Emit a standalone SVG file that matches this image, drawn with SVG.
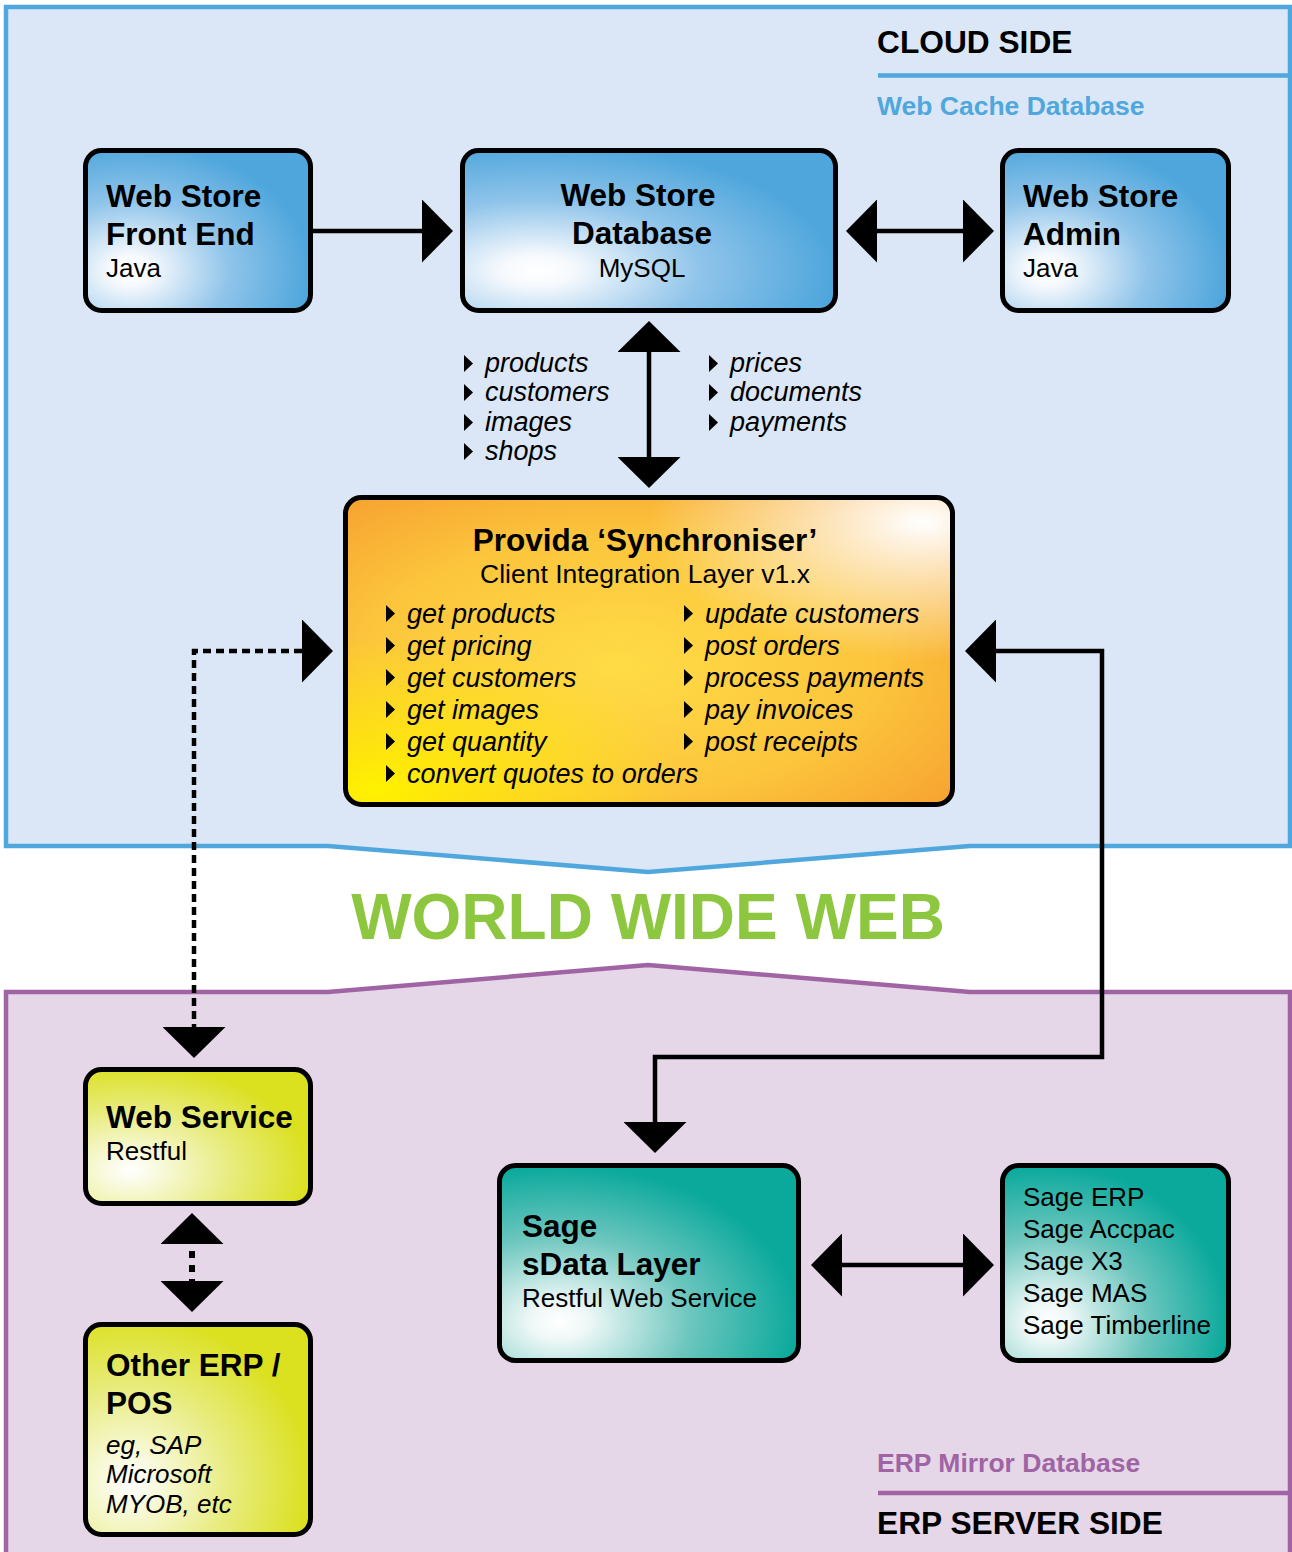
<svg xmlns="http://www.w3.org/2000/svg" xmlns:xlink="http://www.w3.org/1999/xlink" width="1292" height="1552" viewBox="0 0 1292 1552">
<style>
  text { font-family: "Liberation Sans", Arial, Helvetica, sans-serif; fill: #000; }
  .h { font-weight: bold; font-size: 31.5px; }
  .s { font-size: 26px; }
  .i { font-size: 27px; font-style: italic; }
  .ii { font-size: 26px; font-style: italic; }
  .box { stroke: #000; stroke-width: 5; }
  .conn { fill: none; stroke: #000; stroke-width: 4.5; }
  .dot { stroke-dasharray: 8 5; }
  .side { font-weight: bold; font-size: 31.7px; }
  .sub { font-weight: bold; font-size: 26.5px; }
</style>
<defs>
  <radialGradient id="gBlue" cx="0.2" cy="0.75" r="0.8">
    <stop offset="0" stop-color="#ffffff"/>
    <stop offset="0.12" stop-color="#f6f9fd"/>
    <stop offset="0.55" stop-color="#8fc4ea"/>
    <stop offset="1" stop-color="#4ea6dc"/>
  </radialGradient>
  <radialGradient id="gYel" cx="0.2" cy="0.75" r="0.8">
    <stop offset="0" stop-color="#ffffff"/>
    <stop offset="0.12" stop-color="#fafbe6"/>
    <stop offset="0.55" stop-color="#e8ec80"/>
    <stop offset="1" stop-color="#dbe01f"/>
  </radialGradient>
  <radialGradient id="gTeal" cx="0.2" cy="0.8" r="0.8">
    <stop offset="0" stop-color="#ffffff"/>
    <stop offset="0.12" stop-color="#eef8f7"/>
    <stop offset="0.55" stop-color="#6cc6be"/>
    <stop offset="1" stop-color="#0aa99c"/>
  </radialGradient>
  <radialGradient id="gOrBase" cx="0.45" cy="0.55" r="0.7">
    <stop offset="0" stop-color="#ffdc46"/>
    <stop offset="0.6" stop-color="#fcc53c"/>
    <stop offset="1" stop-color="#f7a331"/>
  </radialGradient>
  <radialGradient id="gOrYel" cx="0.05" cy="0.95" r="0.5">
    <stop offset="0" stop-color="#fff200" stop-opacity="1"/>
    <stop offset="1" stop-color="#fff200" stop-opacity="0"/>
  </radialGradient>
  <radialGradient id="gOrWht" cx="0.95" cy="0.08" r="0.45">
    <stop offset="0" stop-color="#ffffff" stop-opacity="1"/>
    <stop offset="1" stop-color="#ffffff" stop-opacity="0"/>
  </radialGradient>
  <marker id="ah" viewBox="0 0 31 63" refX="0" refY="31.5" markerWidth="31" markerHeight="63" markerUnits="userSpaceOnUse" orient="auto-start-reverse">
    <path d="M0,0 L31,31.5 L0,63 Z" fill="#000"/>
  </marker>
  <path id="tri" d="M0,-17 L9,-8.5 L0,0 Z" fill="#000"/>
</defs>

<!-- Panels -->
<path d="M6,7 H1290 V846 H970 L648,872 L328,846 H6 Z" fill="#dbe7f6" stroke="#4fa7dd" stroke-width="4.5"/>
<path d="M6,1560 V992 H328 L648,965 L970,992 H1290 V1560" fill="#e5d7e8" stroke="#a064a4" stroke-width="4.5"/>
<text class="side" x="877" y="53">CLOUD SIDE</text>
<line x1="878" y1="75.5" x2="1290" y2="75.5" stroke="#4fa7dd" stroke-width="4.5"/>
<text class="sub" x="877" y="115" style="fill:#4fa7dd">Web Cache Database</text>
<text x="648" y="939" text-anchor="middle" style="font-weight:bold;font-size:64px;fill:#8dc63f">WORLD WIDE WEB</text>
<text class="sub" x="877" y="1472" style="fill:#a064a4">ERP Mirror Database</text>
<line x1="878" y1="1493" x2="1290" y2="1493" stroke="#a064a4" stroke-width="4.5"/>
<text class="side" x="877" y="1534">ERP SERVER SIDE</text>

<!-- Connectors -->
<g id="connectors">
  <path class="conn" d="M313,231 H422" marker-end="url(#ah)"/>
  <path class="conn" d="M877,231 H963" marker-start="url(#ah)" marker-end="url(#ah)"/>
  <path class="conn" d="M649,352 V457" marker-start="url(#ah)" marker-end="url(#ah)"/>
  <path class="conn dot" d="M302,651 H194 V1027" marker-start="url(#ah)" marker-end="url(#ah)"/>
  <path class="conn" d="M996,651 H1102 V1057 H655 V1122" marker-start="url(#ah)" marker-end="url(#ah)"/>
  <path class="conn" d="M192,1244 V1281" style="stroke-width:6;stroke-dasharray:7 7;stroke-dashoffset:7" marker-start="url(#ah)" marker-end="url(#ah)"/>
  <path class="conn" d="M842,1265 H963" marker-start="url(#ah)" marker-end="url(#ah)"/>
</g>

<!-- Data flow lists -->
<g id="flow-labels">
  <use href="#tri" x="464" y="372"/><text class="i" x="485" y="372">products</text>
  <use href="#tri" x="464" y="401"/><text class="i" x="485" y="401">customers</text>
  <use href="#tri" x="464" y="431"/><text class="i" x="485" y="431">images</text>
  <use href="#tri" x="464" y="460"/><text class="i" x="485" y="460">shops</text>
  <use href="#tri" x="709" y="372"/><text class="i" x="730" y="372">prices</text>
  <use href="#tri" x="709" y="401"/><text class="i" x="730" y="401">documents</text>
  <use href="#tri" x="709" y="431"/><text class="i" x="730" y="431">payments</text>
</g>

<!-- Nodes -->
<g id="web-store-front-end">
  <rect class="box" x="85.5" y="150.5" width="225" height="160" rx="16" fill="url(#gBlue)"/>
  <text class="h" x="106" y="207">Web Store</text>
  <text class="h" x="106" y="245">Front End</text>
  <text class="s" x="106" y="277">Java</text>
</g>
<g id="web-store-database">
  <rect class="box" x="462.5" y="150.5" width="373" height="160" rx="16" fill="url(#gBlue)"/>
  <text class="h" x="638" y="206" text-anchor="middle">Web Store</text>
  <text class="h" x="642" y="244" text-anchor="middle">Database</text>
  <text class="s" x="642" y="277" text-anchor="middle">MySQL</text>
</g>
<g id="web-store-admin">
  <rect class="box" x="1002.5" y="150.5" width="226" height="160" rx="16" fill="url(#gBlue)"/>
  <text class="h" x="1023" y="207">Web Store</text>
  <text class="h" x="1023" y="245">Admin</text>
  <text class="s" x="1023" y="277">Java</text>
</g>
<g id="synchroniser">
  <rect x="345.5" y="497.5" width="607" height="307" rx="16" fill="url(#gOrBase)"/>
  <rect x="345.5" y="497.5" width="607" height="307" rx="16" fill="url(#gOrYel)"/>
  <rect x="345.5" y="497.5" width="607" height="307" rx="16" fill="url(#gOrWht)"/>
  <rect class="box" x="345.5" y="497.5" width="607" height="307" rx="16" fill="none"/>
  <text x="645" y="551" text-anchor="middle" style="font-weight:bold;font-size:31.5px">Provida ‘Synchroniser’</text>
  <text x="645" y="583" text-anchor="middle" style="font-size:26.5px">Client Integration Layer v1.x</text>
  <use href="#tri" x="386" y="622"/><text class="i" x="407" y="623">get products</text>
  <use href="#tri" x="386" y="654"/><text class="i" x="407" y="655">get pricing</text>
  <use href="#tri" x="386" y="686"/><text class="i" x="407" y="687">get customers</text>
  <use href="#tri" x="386" y="718"/><text class="i" x="407" y="719">get images</text>
  <use href="#tri" x="386" y="750"/><text class="i" x="407" y="751">get quantity</text>
  <use href="#tri" x="386" y="782"/><text class="i" x="407" y="783">convert quotes to orders</text>
  <use href="#tri" x="684" y="622"/><text class="i" x="705" y="623">update customers</text>
  <use href="#tri" x="684" y="654"/><text class="i" x="705" y="655">post orders</text>
  <use href="#tri" x="684" y="686"/><text class="i" x="705" y="687">process payments</text>
  <use href="#tri" x="684" y="718"/><text class="i" x="705" y="719">pay invoices</text>
  <use href="#tri" x="684" y="750"/><text class="i" x="705" y="751">post receipts</text>
</g>
<g id="web-service">
  <rect class="box" x="85.5" y="1069.5" width="225" height="134" rx="16" fill="url(#gYel)"/>
  <text class="h" x="106" y="1128">Web Service</text>
  <text class="s" x="106" y="1160">Restful</text>
</g>
<g id="other-erp">
  <rect class="box" x="85.5" y="1324.5" width="225" height="210" rx="16" fill="url(#gYel)"/>
  <text class="h" x="106" y="1376">Other ERP /</text>
  <text class="h" x="106" y="1414">POS</text>
  <text class="ii" x="106" y="1454">eg, SAP</text>
  <text class="ii" x="106" y="1483">Microsoft</text>
  <text class="ii" x="106" y="1513">MYOB, etc</text>
</g>
<g id="sage-sdata">
  <rect class="box" x="499.5" y="1165.5" width="299" height="195" rx="16" fill="url(#gTeal)"/>
  <text class="h" x="522" y="1237">Sage</text>
  <text class="h" x="522" y="1275">sData Layer</text>
  <text class="s" x="522" y="1307">Restful Web Service</text>
</g>
<g id="sage-products">
  <rect class="box" x="1002.5" y="1165.5" width="226" height="195" rx="16" fill="url(#gTeal)"/>
  <text class="s" x="1023" y="1206">Sage ERP</text>
  <text class="s" x="1023" y="1238">Sage Accpac</text>
  <text class="s" x="1023" y="1270">Sage X3</text>
  <text class="s" x="1023" y="1302">Sage MAS</text>
  <text class="s" x="1023" y="1334">Sage Timberline</text>
</g>
</svg>
